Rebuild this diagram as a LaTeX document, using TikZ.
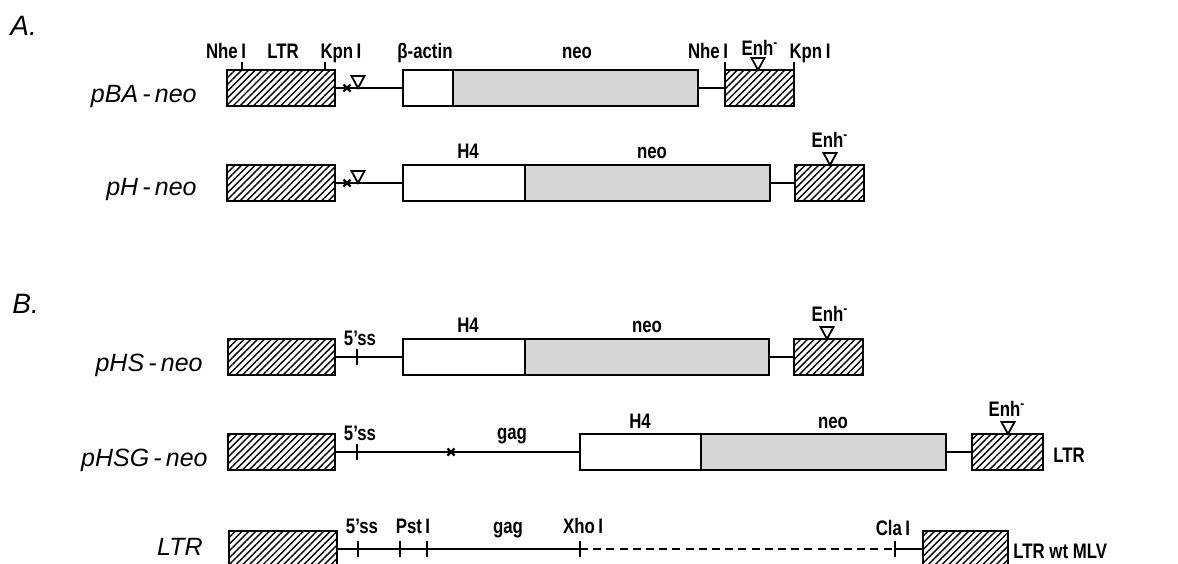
\documentclass[tikz,border=0pt]{standalone}
\usepackage{fontspec}
\setmainfont{Liberation Sans}
\newfontfamily\labfont[FakeStretch=0.8]{Liberation Sans}
\usepackage{tikz}
\usetikzlibrary{patterns.meta}
\newcommand{\SegBox}[5]{% name, fill style, x from, x to, y
  \node[segbox,#2,minimum width={(#4-#3)*0.5pt}] (#1) at (#3,#5) {};}
\newcommand{\EnhTri}[2]{%
  \draw[line width=0.9pt,fill=white] (#1-6.5,#2-12) -- (#1+6.5,#2-12) -- (#1,#2) -- cycle;}
\newcommand{\CrossMark}[2]{%
  \draw[line width=1.1pt] (#1-3.5,#2-3.5) -- (#1+3.5,#2+3.5) (#1-3.5,#2+3.5) -- (#1+3.5,#2-3.5);}
\newcommand{\CutTick}[2]{%
  \draw[dna] (#1,#2-8) -- (#1,#2+8);}

\begin{document}
\begin{tikzpicture}[x=0.5pt,y=-0.5pt,
  segbox/.style={draw,line width=1pt,rectangle,inner sep=0pt,outer sep=0pt,
    minimum height=18pt,anchor=west},
  ltr/.style={pattern={Lines[angle=45,distance=2.4pt,line width=0.7pt]}},
  neo/.style={fill=black!16},
  prom/.style={fill=white},
  dna/.style={line width=0.9pt},
  lab/.style={font=\labfont\bfseries\fontsize{10.5}{12}\selectfont,anchor=base,inner sep=0pt},
  rowname/.style={font=\itshape\fontsize{12.5}{14}\selectfont,anchor=base east,inner sep=0pt},
  part/.style={font=\itshape\fontsize{14}{16}\selectfont,anchor=base west,inner sep=0pt}]
  \useasboundingbox (0,0) rectangle (1178,563);
  \clip (0,0) rectangle (1178,563);

  % A.
  \node[part] (pA) at (10,35) {A.};

  % pBA-neo
  \node[rowname] (nBA) at (197,102) {pBA\,-\,neo};
  \SegBox{baL}{ltr}{227}{335}{88}
  \SegBox{baAct}{prom}{403}{453}{88}
  \SegBox{baNeo}{neo}{453}{698}{88}
  \SegBox{baR}{ltr}{725}{794}{88}
  \draw[dna] (baL.east) -- (baAct.west);
  \draw[dna] (baNeo.east) -- (baR.west);
  \CrossMark{347}{88}
  \EnhTri{358}{88}
  \draw[dna] (242,70) -- (242,62);
  \draw[dna] (325,70) -- (325,62);
  \draw[dna] (baR.north west) -- ++(0,-8);
  \draw[dna] (baR.north east) -- ++(0,-8);
  \EnhTri{758}{70}
  \node[lab] (baNhe) at (226,58) {Nhe\,I};
  \node[lab] (baLtr) at (283,58) {LTR};
  \node[lab] (baKpn) at (341,58) {Kpn\,I};
  \node[lab] (baActL) at (425,58) {β-actin};
  \node[lab] (baNeoL) at (577,58) {neo};
  \node[lab] (baNhe2) at (708,58) {Nhe\,I};
  \node[lab] (baEnh) at (760,55) {Enh\textsuperscript{-}};
  \node[lab] (baKpn2) at (810,58) {Kpn\,I};

  % pH-neo
  \node[rowname] (nH) at (197,195) {pH\,-\,neo};
  \SegBox{hL}{ltr}{227}{335}{183}
  \SegBox{hH4}{prom}{403}{525}{183}
  \SegBox{hNeo}{neo}{525}{770}{183}
  \SegBox{hR}{ltr}{795}{864}{183}
  \draw[dna] (hL.east) -- (hH4.west);
  \draw[dna] (hNeo.east) -- (hR.west);
  \CrossMark{347}{183}
  \EnhTri{358}{183}
  \EnhTri{830}{165}
  \node[lab] (hH4L) at (468,158) {H4};
  \node[lab] (hNeoL) at (652,158) {neo};
  \node[lab] (hEnh) at (830,147) {Enh\textsuperscript{-}};

  % B.
  \node[part] (pB) at (12,313) {B.};

  % pHS-neo
  \node[rowname] (nHS) at (203,371) {pHS\,-\,neo};
  \SegBox{hsL}{ltr}{228}{335}{357}
  \SegBox{hsH4}{prom}{403}{525}{357}
  \SegBox{hsNeo}{neo}{525}{769}{357}
  \SegBox{hsR}{ltr}{794}{863}{357}
  \draw[dna] (hsL.east) -- (hsH4.west);
  \draw[dna] (hsNeo.east) -- (hsR.west);
  \CutTick{357}{357}
  \EnhTri{827}{339}
  \node[lab] (hsSs) at (360,345) {5’ss};
  \node[lab] (hsH4L) at (468,332) {H4};
  \node[lab] (hsNeoL) at (647,332) {neo};
  \node[lab] (hsEnh) at (830,321) {Enh\textsuperscript{-}};

  % pHSG-neo
  \node[rowname] (nHSG) at (208,466) {pHSG\,-\,neo};
  \SegBox{hsgL}{ltr}{228}{335}{452}
  \SegBox{hsgH4}{prom}{580}{701}{452}
  \SegBox{hsgNeo}{neo}{701}{946}{452}
  \SegBox{hsgR}{ltr}{972}{1043}{452}
  \draw[dna] (hsgL.east) -- (hsgH4.west);
  \draw[dna] (hsgNeo.east) -- (hsgR.west);
  \CutTick{357}{452}
  \CrossMark{451}{452}
  \EnhTri{1008}{434}
  \node[lab] (hsgSs) at (360,440) {5’ss};
  \node[lab] (hsgGag) at (512,439) {gag};
  \node[lab] (hsgH4L) at (640,428) {H4};
  \node[lab] (hsgNeoL) at (833,428) {neo};
  \node[lab] (hsgEnh) at (1007,416) {Enh\textsuperscript{-}};
  \node[lab,anchor=base west] (hsgLtr) at (1053,462) {LTR};

  % LTR wt MLV
  \node[rowname] (nWt) at (203,555) {LTR};
  \SegBox{wtL}{ltr}{229}{337}{549}
  \SegBox{wtR}{ltr}{923}{1008}{549}
  \coordinate (xho) at (580,549);
  \coordinate (cla) at (895,549);
  \draw[dna] (wtL.east) -- (xho);
  \draw[dna,dash pattern=on 4pt off 2.6pt] (xho) -- (cla);
  \draw[dna] (cla) -- (wtR.west);
  \foreach \x in {358,400,427,580,895} {\CutTick{\x}{549}}
  \node[lab] (wtSs) at (362,533) {5’ss};
  \node[lab] (wtPst) at (413,533) {Pst\,I};
  \node[lab] (wtGag) at (508,533) {gag};
  \node[lab] (wtXho) at (583,533) {Xho\,I};
  \node[lab] (wtCla) at (893,535) {Cla\,I};
  \node[lab,anchor=base west] (wtName) at (1013,558) {LTR wt MLV};
\end{tikzpicture}
\end{document}
